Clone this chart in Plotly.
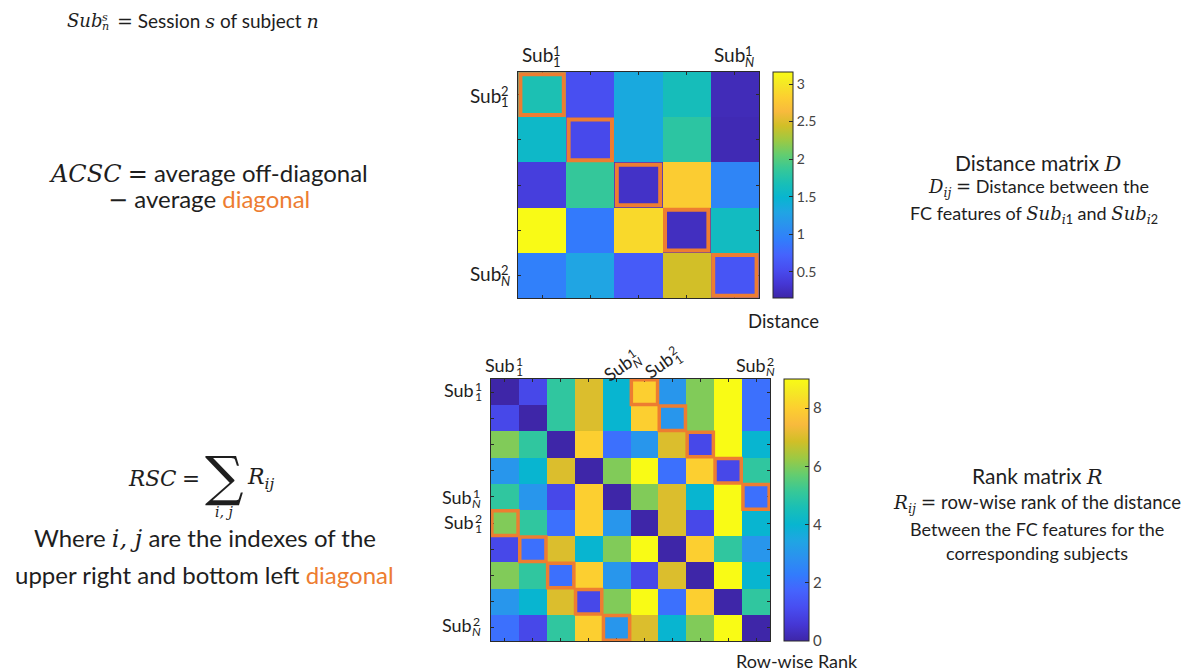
import math
import plotly.graph_objects as go

W, H = 1192, 671

# ---- data -------------------------------------------------------------
# Distance matrix D (rows: session-2 subjects, cols: session-1 subjects)
distance = [
    [1.70, 0.55, 1.35, 1.65, 0.22],
    [1.55, 0.50, 1.35, 1.80, 0.20],
    [0.40, 1.85, 0.28, 2.80, 1.00],
    [3.15, 0.90, 2.90, 0.25, 1.60],
    [0.95, 1.30, 0.65, 2.45, 0.60],
]
distance_ticks = [0.5, 1, 1.5, 2, 2.5, 3]
distance_min, distance_max = 0.15, 3.16

# Row-wise rank matrix R (10 x 10, each row a permutation of 0..9)
rank = [
    [0, 1, 5, 7, 4, 8, 3, 6, 9, 2],
    [1, 0, 5, 7, 4, 8, 3, 6, 9, 2],
    [6, 5, 0, 8, 2, 3, 7, 1, 9, 4],
    [3, 4, 7, 0, 6, 9, 2, 8, 1, 5],
    [5, 3, 1, 8, 0, 6, 7, 4, 9, 2],
    [6, 5, 2, 8, 3, 0, 7, 1, 9, 4],
    [1, 2, 7, 4, 6, 9, 0, 8, 5, 3],
    [6, 5, 2, 8, 3, 1, 7, 0, 9, 4],
    [3, 4, 7, 1, 6, 9, 2, 8, 0, 5],
    [2, 1, 5, 8, 3, 7, 4, 6, 9, 0],
]
rank_ticks = [0, 2, 4, 6, 8]
rank_min, rank_max = 0, 9

n_d = len(distance)
n_r = len(rank)
half = n_r // 2
distance_diag = [(i, i) for i in range(n_d)]
rank_diag = [(i, i + half) for i in range(half)] + [(i + half, i) for i in range(half)]

# ---- style ------------------------------------------------------------
SANS = "Lato"
MATH = "DejaVu Serif"
INK = "#1e1e1e"
ORANGE = "#ED7D31"
AXIS = "#2a2a2a"

parula_rgb = [
    (0.2422, 0.1504, 0.6603), (0.2706, 0.2147, 0.8364), (0.2813, 0.3006, 0.9414),
    (0.2699, 0.3892, 0.9906), (0.1963, 0.4847, 0.9892), (0.1687, 0.5703, 0.9359),
    (0.1248, 0.6459, 0.8883), (0.0297, 0.7082, 0.8163), (0.0964, 0.7500, 0.7120),
    (0.2161, 0.7843, 0.5923), (0.3909, 0.8029, 0.4354), (0.6174, 0.7876, 0.2612),
    (0.8203, 0.7498, 0.1535), (0.9728, 0.7298, 0.2394), (0.9892, 0.8136, 0.1885),
    (0.9597, 0.9135, 0.1423), (0.9769, 0.9839, 0.0805),
]
parula_pos = [i * 4 / 63 for i in range(16)] + [1.0]
parula = [[p, "rgb(%d,%d,%d)" % tuple(round(c * 255) for c in rgb)]
          for p, rgb in zip(parula_pos, parula_rgb)]


def px(x):
    return x / W


def py(y):
    return 1 - y / H


def m(s):
    return f'<span style="font-family:{MATH}"><i>{s}</i></span>'


annotations = []


def text(x, y, s, size, anchor="center", color=INK, family=SANS, angle=0):
    annotations.append(dict(
        x=px(x), y=py(y), xref="paper", yref="paper", text=s, showarrow=False,
        xanchor=anchor, yanchor="middle", textangle=angle,
        font=dict(family=family, size=size, color=color),
    ))


def stacked(cx, cy, base, sub, sup, size=19, k=1.64, family=SANS,
            angle=0, sub_w=None, up=0.22, dn=0.36, ratio=0.68):
    """Base text with a superscript stacked above a subscript."""
    a = math.radians(angle)
    ux, uy = math.cos(a), math.sin(a)          # along the text
    vx, vy = math.sin(a), -math.cos(a)         # "up" relative to the text
    ss = size * ratio
    sub_w = sub_w if sub_w is not None else 0.6 * ss
    text(cx, cy, base, size, family=family, angle=angle)
    d = k * size / 2 + 1 + sub_w / 2
    sx, sy = cx + ux * d, cy + uy * d
    text(sx + vx * up * size, sy + vy * up * size, sup, ss, family=family, angle=angle)
    text(sx - vx * dn * size, sy - vy * dn * size, sub, ss, family=family, angle=angle)


# ---- heatmaps ---------------------------------------------------------
D_BOX = (518, 759, 72, 298)      # left, right, top, bottom (px)
R_BOX = (491, 770, 379, 641)

fig = go.Figure()

fig.add_trace(go.Heatmap(
    z=distance, x=list(range(n_d)), y=list(range(n_d)),
    colorscale=parula, zmin=distance_min, zmax=distance_max,
    xaxis="x", yaxis="y", hoverinfo="skip",
    colorbar=dict(
        x=px(773), xanchor="left", xpad=0, thickness=20, thicknessmode="pixels",
        y=py((D_BOX[2] + D_BOX[3]) / 2), yanchor="middle", ypad=0,
        len=(D_BOX[3] - D_BOX[2]) / H, lenmode="fraction",
        tickvals=distance_ticks, ticks="inside", ticklen=4, tickcolor=AXIS,
        outlinecolor=AXIS, outlinewidth=1,
        tickfont=dict(family=SANS, size=14, color="#444"),
    ),
))

fig.add_trace(go.Heatmap(
    z=rank, x=list(range(n_r)), y=list(range(n_r)),
    colorscale=parula, zmin=rank_min, zmax=rank_max,
    xaxis="x2", yaxis="y2", hoverinfo="skip",
    colorbar=dict(
        x=px(784), xanchor="left", xpad=0, thickness=25, thicknessmode="pixels",
        y=py((R_BOX[2] + R_BOX[3]) / 2), yanchor="middle", ypad=0,
        len=(R_BOX[3] - R_BOX[2]) / H, lenmode="fraction",
        tickvals=rank_ticks, ticks="inside", ticklen=4, tickcolor=AXIS,
        outlinecolor=AXIS, outlinewidth=1,
        tickfont=dict(family=SANS, size=15, color="#444"),
    ),
))


def axis(domain, n, reverse=False):
    rng = [n - 0.5, -0.5] if reverse else [-0.5, n - 0.5]
    return dict(domain=domain, range=rng, showgrid=False, zeroline=False,
                showline=True, linecolor=AXIS, linewidth=1, mirror="ticks",
                ticks="inside", ticklen=3, tickcolor=AXIS,
                tickvals=list(range(n)), showticklabels=False, fixedrange=True)


fig.update_layout(
    width=W, height=H, margin=dict(l=0, r=0, t=0, b=0),
    paper_bgcolor="white", plot_bgcolor="white", showlegend=False,
    xaxis=axis([px(D_BOX[0]), px(D_BOX[1])], n_d),
    yaxis=dict(axis([py(D_BOX[3]), py(D_BOX[2])], n_d, reverse=True), anchor="x"),
    xaxis2=dict(axis([px(R_BOX[0]), px(R_BOX[1])], n_r), anchor="y2"),
    yaxis2=dict(axis([py(R_BOX[3]), py(R_BOX[2])], n_r, reverse=True), anchor="x2"),
)

# orange outlines on the highlighted diagonals
shapes = []
for r, c in distance_diag:
    k = 0.05
    shapes.append(dict(type="rect", xref="x", yref="y",
                       x0=c - 0.5 + k, x1=c + 0.5 - k, y0=r - 0.5 + k, y1=r + 0.5 - k,
                       line=dict(color=ORANGE, width=4)))
for r, c in rank_diag:
    k = 0.03
    shapes.append(dict(type="rect", xref="x2", yref="y2",
                       x0=c - 0.5 + k, x1=c + 0.5 - k, y0=r - 0.5 + k, y1=r + 0.5 - k,
                       line=dict(color=ORANGE, width=3.5)))
fig.update_layout(shapes=shapes)

# ---- matrix labels ----------------------------------------------------
N = "<i>N</i>"
stacked(537, 55, "Sub", "1", "1")
stacked(729, 55, "Sub", N, "1")
stacked(485, 95, "Sub", "1", "2")
stacked(485, 274, "Sub", N, "2")
text(783, 321, "Distance", 18.5)

stacked(500, 365, "Sub", "1", "1", size=18)
stacked(751, 365, "Sub", N, "2", size=18)
stacked(618, 368, "Sub", N, "1", size=18, angle=-35)
stacked(659, 365, "Sub", "1", "2", size=18, angle=-35)
stacked(459, 390, "Sub", "1", "1", size=18)
stacked(457, 497, "Sub", N, "1", size=18)
stacked(459, 522, "Sub", "1", "2", size=18)
stacked(457, 625, "Sub", N, "2", size=18)
text(797, 661, "Row-wise Rank", 18)

# ---- left-hand formulas -------------------------------------------------
stacked(84, 21, "<i>Sub</i>", "<i>n</i>", "<i>s</i>", size=18, k=1.9,
        family=MATH, up=0.2, dn=0.3, ratio=0.62)
text(115, 21, f'{m("=")} Session {m("s")} of subject {m("n")}', 19, anchor="left")

text(47, 173, f'{m("ACSC")} {m("=")} average off-diagonal', 24, anchor="left")
text(106, 199, f'{m("−")} average <span style="color:{ORANGE}">diagonal</span>',
     24, anchor="left")

text(126, 478, f'{m("RSC")} {m("=")}', 21.5, anchor="left")
text(224, 476, "∑", 54, family=MATH)
text(224, 512, m("i, j"), 14, family=MATH)
text(245, 478, m("R") + f'<sub>{m("ij")}</sub>', 22, anchor="left")
text(205, 538, f'Where {m("i, j")} are the indexes of the', 24)
text(204, 574, f'upper right and bottom left <span style="color:{ORANGE}">diagonal</span>', 24)

# ---- right-hand descriptions -----------------------------------------
text(1038, 163, f'Distance matrix {m("D")}', 21)
text(1038, 188, m("D") + f'<sub>{m("ij")}</sub> {m("=")} Distance between the', 18)
text(1034, 215, f'FC features of {m("Sub")}<sub>{m("i")}1</sub> and {m("Sub")}<sub>{m("i")}2</sub>', 18)

text(1037, 476, f'Rank matrix {m("R")}', 21)
text(1037, 503, m("R") + f'<sub>{m("ij")}</sub> {m("=")} row-wise rank of the distance', 18.5)
text(1037, 529, "Between the FC features for the", 18)
text(1037, 553, "corresponding subjects", 18)

fig.update_layout(annotations=annotations)
fig.write_html("out.html")
